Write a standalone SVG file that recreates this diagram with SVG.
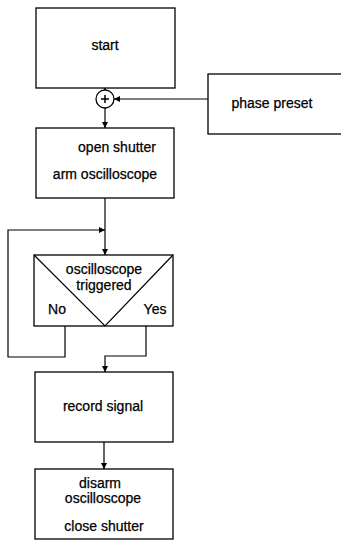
<svg xmlns="http://www.w3.org/2000/svg" width="341" height="540" viewBox="0 0 341 540">
<defs>
<style>
.box{fill:#fff;stroke:#000;stroke-width:1.3}
.ln{fill:none;stroke:#000;stroke-width:1.2}
.t{font-family:"Liberation Sans",Arial,sans-serif;font-size:14px;fill:#000;stroke:#000;stroke-width:0.25;text-anchor:middle}
</style>
<marker id="ah" viewBox="0 0 8 8" refX="8" refY="4" markerWidth="6" markerHeight="6" orient="auto" markerUnits="userSpaceOnUse">
<path d="M0,0 L8,4 L0,8 z" fill="#000"/>
</marker>
</defs>
<rect width="341" height="540" fill="#fff"/>
<g id="connectors">
<path class="ln" d="M105,88 V90" marker-end="url(#ah)"/>
<path class="ln" d="M208,99 H114" marker-end="url(#ah)"/>
<path class="ln" d="M105,108 V128" marker-end="url(#ah)"/>
<path class="ln" d="M105,198 V255" marker-end="url(#ah)"/>
<path class="ln" d="M65,326 V357 H8 V230 H105" marker-end="url(#ah)"/>
<path class="ln" d="M146,326 V356 H105 V372" marker-end="url(#ah)"/>
<path class="ln" d="M104,442 V469" marker-end="url(#ah)"/>
</g>
<g id="start">
<rect class="box" x="36" y="8" width="139" height="80"/>
<text class="t" x="105" y="50">start</text>
</g>
<g id="sum">
<circle class="box" cx="105" cy="99" r="9"/>
<path class="ln" d="M101,99 H109 M105,95 V103" style="stroke-width:1.5"/>
</g>
<g id="phase-preset">
<rect class="box" x="208" y="74" width="140" height="60"/>
<text class="t" x="272" y="108">phase preset</text>
</g>
<g id="open-shutter">
<rect class="box" x="36" y="128" width="138" height="70"/>
<text class="t" x="117" y="152">open shutter</text>
<text class="t" x="105" y="179">arm oscilloscope</text>
</g>
<g id="decision">
<rect class="box" x="34" y="255" width="139" height="71"/>
<path class="ln" d="M34,255 L105,326 L173,255"/>
<text class="t" x="104" y="274">oscilloscope</text>
<text class="t" x="104" y="290">triggered</text>
<text class="t" x="57" y="314">No</text>
<text class="t" x="155" y="314">Yes</text>
</g>
<g id="record">
<rect class="box" x="35" y="372" width="138" height="70"/>
<text class="t" x="103" y="411">record signal</text>
</g>
<g id="disarm">
<rect class="box" x="35" y="469" width="138" height="70"/>
<text class="t" x="100" y="488">disarm</text>
<text class="t" x="103" y="503">oscilloscope</text>
<text class="t" x="104" y="531">close shutter</text>
</g>
</svg>
